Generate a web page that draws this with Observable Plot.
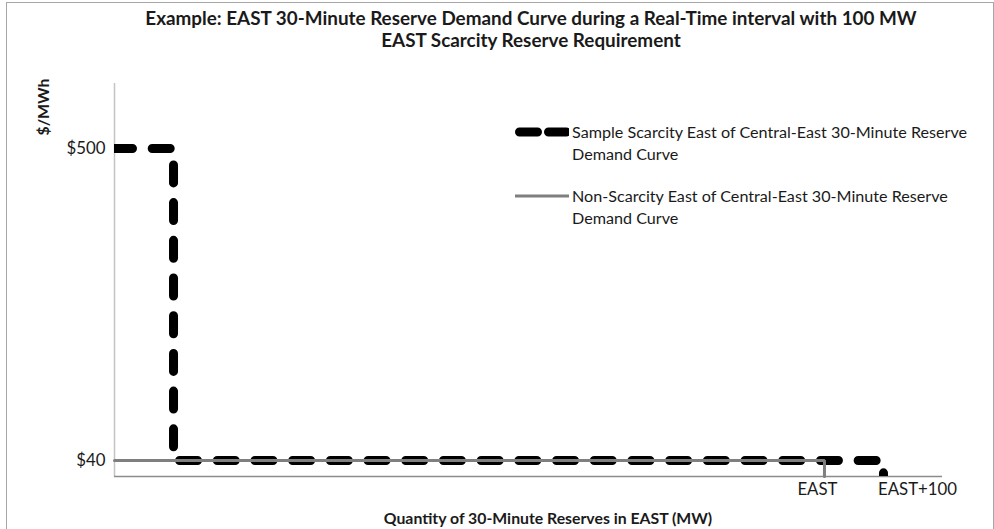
<!DOCTYPE html>
<html><head><meta charset="utf-8">
<script src="https://cdn.jsdelivr.net/npm/d3@7"></script>
<script src="https://cdn.jsdelivr.net/npm/@observablehq/plot@0.6"></script>
<style>
body{margin:0;background:#fff;font-family:Lato,"Open Sans",sans-serif;color:#1a1a1a;}
#wrap{position:relative;width:994px;height:529px;overflow:hidden;background:#fff;}
#border{position:absolute;left:6px;top:2px;width:988px;height:600px;border:1.5px solid #a6a6a6;box-sizing:border-box;}
#title{position:absolute;left:131px;top:18px;width:800px;text-align:center;font-weight:bold;line-height:22px;transform:translateY(-11px);}
#chart{position:absolute;left:0;top:53px;}
#ylab{position:absolute;left:43px;top:107px;transform:translate(-50%,-50%) rotate(-90deg);font-weight:bold;white-space:nowrap;line-height:1;}
#xlab{position:absolute;left:548px;top:518px;transform:translate(-50%,-50%);font-weight:bold;white-space:nowrap;line-height:1;}
.leg{position:absolute;left:515px;line-height:22px;}
.leg svg{position:absolute;left:0;top:-7px;}
.leg div{position:absolute;left:57px;top:-11px;width:405px;}
</style></head>
<body>
<div id="wrap">
  <div id="border"></div>
  <div id="title"></div>
  <div id="chart"></div>
  <div id="ylab"></div>
  <div id="xlab"></div>
  <div class="leg" id="leg1" style="top:132px"><svg width="54" height="14"><line x1="4.5" y1="7" x2="52" y2="7" stroke="#000" stroke-width="9" stroke-linecap="round" stroke-dasharray="18 11"/></svg><div></div></div>
  <div class="leg" id="leg2" style="top:196px"><svg width="54" height="14"><line x1="0" y1="7" x2="54" y2="7" stroke="#7f7f7f" stroke-width="3"/></svg><div></div></div>
</div>
<script>
const titleLines = ["Example: EAST 30-Minute Reserve Demand Curve during a Real-Time interval with 100 MW", "EAST Scarcity Reserve Requirement"];
const yLabel = "$/MWh";
const xLabel = "Quantity of 30-Minute Reserves in EAST (MW)";
const seriesNames = ["Sample Scarcity East of Central-East 30-Minute Reserve Demand Curve", "Non-Scarcity East of Central-East 30-Minute Reserve Demand Curve"];
const yTickValues = [40, 500];
const xTickValues = [0, 100];
const xTickLabels = ["EAST", "EAST+100"];
// quantity relative to EAST (MW), price ($/MWh)
const scarcityQ = [-1203, -1103, -1103, 100, 100];
const scarcityP = [500, 500, 40, 40, 16.4];
const nonScarcityQ = [-1203, 0, 0];
const nonScarcityP = [40, 40, 16.4];
const xDomain = [-1203, 200];
const yDomain = [16.4, 595.9];

// size fonts so the substitute face matches the reference text widths
const ctx = document.createElement("canvas").getContext("2d");
function fit(text, target, weight) {
  ctx.font = `${weight} 100px Lato`;
  return 100 * target / ctx.measureText(text).width;
}
const titleSize = fit(titleLines[0], 773, "bold");
const legendSize = fit("Sample Scarcity East of Central-East 30-Minute Reserve", 396, "normal");
const tickSize = fit("$500", 39, "normal");
const xTitleSize = fit(xLabel, 330, "bold");
const yTitleSize = fit(yLabel, 57, "bold");

const t = document.getElementById("title");
t.innerHTML = titleLines.join("<br>");
t.style.fontSize = titleSize + "px";
const yl = document.getElementById("ylab");
yl.textContent = yLabel; yl.style.fontSize = yTitleSize + "px";
const xl = document.getElementById("xlab");
xl.textContent = xLabel; xl.style.fontSize = xTitleSize + "px";
document.querySelectorAll(".leg div").forEach((d, i) => { d.textContent = seriesNames[i]; d.style.fontSize = legendSize + "px"; });

const scarcity = scarcityQ.map((q, i) => ({q, p: scarcityP[i]}));
const nonScarcity = nonScarcityQ.map((q, i) => ({q, p: nonScarcityP[i]}));

const chart = Plot.plot({
  width: 994, height: 476,
  marginTop: 30, marginBottom: 53, marginLeft: 114, marginRight: 52,
  style: {fontFamily: "Lato, sans-serif", fontSize: tickSize + "px", color: "#1a1a1a", background: "transparent"},
  x: {domain: xDomain},
  y: {domain: yDomain},
  marks: [
    Plot.ruleX([xDomain[0]], {stroke: "#c4c4c4", strokeWidth: 1.5}),
    Plot.ruleY([yDomain[0]], {stroke: "#8c8c8c", strokeWidth: 1.5}),
    Plot.axisY(yTickValues, {tickFormat: d => "$" + d, tickSize: 0, tickPadding: 9, label: null, fontSize: tickSize}),
    Plot.axisX([xTickValues[0]], {tickFormat: () => xTickLabels[0], tickSize: 0, tickPadding: 7, dx: -7, label: null, fontSize: tickSize}),
    Plot.axisX([xTickValues[1]], {tickFormat: () => xTickLabels[1], tickSize: 0, tickPadding: 7, dx: 34, label: null, fontSize: tickSize}),
    Plot.line(scarcity, {x: "q", y: "p", stroke: "#000", strokeWidth: 9, strokeLinecap: "round", strokeLinejoin: "round", strokeDasharray: "18 19.7", clip: true}),
    Plot.line(nonScarcity, {x: "q", y: "p", stroke: "#7f7f7f", strokeWidth: 3, strokeLinejoin: "miter"})
  ]
});
document.getElementById("chart").appendChild(chart);
</script>
</body></html>
